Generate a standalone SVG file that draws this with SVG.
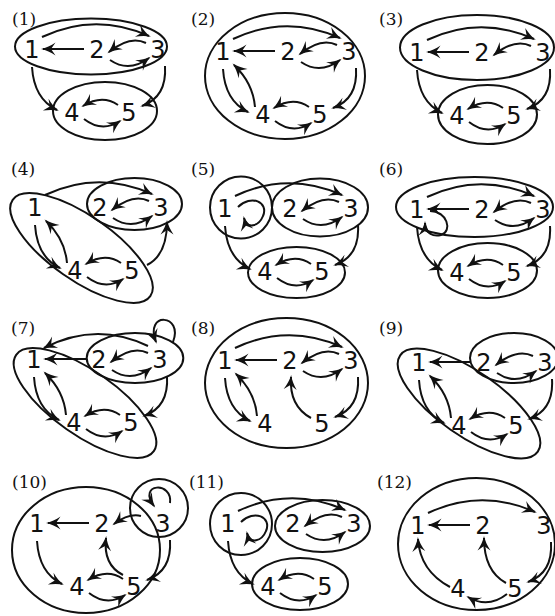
<svg xmlns="http://www.w3.org/2000/svg" width="555" height="616" viewBox="0 0 555 616">
<style>
.n{font-family:"DejaVu Sans",sans-serif;font-size:24px;text-anchor:middle;fill:#111}
.l{font-family:"DejaVu Serif",serif;font-size:17px;fill:#111}
ellipse,circle{fill:none;stroke:#111;stroke-width:2}
.c path{fill:none;stroke:#111;stroke-width:2;marker-end:url(#a)}
</style>
<defs>
<marker id="a" markerWidth="18" markerHeight="14" viewBox="-15 -7 18 14" refX="0" refY="0" orient="auto" markerUnits="userSpaceOnUse" overflow="visible">
<path d="M2,0 C-3,-1 -8,-3.5 -12.5,-6.5 L-8,0 L-12.5,6.5 C-8,3.5 -3,1 2,0 Z" fill="#111" stroke="none"/>
</marker>
<g id="N1"><text class="n" x="0" y="9">1</text></g>
<g id="N2"><text class="n" x="65" y="9">2</text></g>
<g id="N3"><text class="n" x="126" y="9">3</text></g>
<g id="N4"><text class="n" x="40" y="72">4</text></g>
<g id="N5"><text class="n" x="97" y="72">5</text></g>
</defs>

<g id="labels">
<text class="l" x="12" y="25">(1)</text>
<text class="l" x="191" y="25">(2)</text>
<text class="l" x="379" y="25">(3)</text>
<text class="l" x="11" y="175">(4)</text>
<text class="l" x="191" y="175">(5)</text>
<text class="l" x="379" y="175">(6)</text>
<text class="l" x="11" y="334">(7)</text>
<text class="l" x="191" y="334">(8)</text>
<text class="l" x="379" y="334">(9)</text>
<text class="l" x="12" y="488">(10)</text>
<text class="l" x="189" y="488">(11)</text>
<text class="l" x="377" y="488">(12)</text>
</g>

<!-- Panel 1 -->
<g id="panel1" transform="translate(32,49)">
<g id="p1-nodes"><use href="#N1"/><use href="#N2"/><use href="#N3"/><use href="#N4"/><use href="#N5"/></g>
<g id="p1-sets"><ellipse cx="59" cy="-2.5" rx="76" ry="28"/><ellipse cx="73" cy="62" rx="52" ry="29"/></g>
<g id="p1-edges" class="c">
<path d="M10,-12 Q63,-37 117,-13"/><path d="M52,0 L11,0"/><path d="M114,-6 Q98,-14 77,3"/><path d="M78,11 Q97,24 117,9"/>
<path d="M0,18 Q2,50 25,61"/><path d="M133,17 Q135,48 110,57"/><path d="M86,56 Q70,45 51,57"/><path d="M52,70 Q70,84 88,72"/>
</g>
</g>

<!-- Panel 2 -->
<g id="panel2" transform="translate(223,51)">
<g id="p2-nodes"><use href="#N1"/><use href="#N2"/><use href="#N3"/><use href="#N4"/><use href="#N5"/></g>
<g id="p2-sets"><ellipse cx="62" cy="25" rx="80" ry="63"/></g>
<g id="p2-edges" class="c">
<path d="M10,-12 Q63,-37 117,-13"/><path d="M52,0 L11,0"/><path d="M114,-6 Q98,-14 77,3"/><path d="M78,11 Q97,24 117,9"/>
<path d="M0,18 Q2,50 25,61"/><path d="M32,56 Q30,32 11,14"/><path d="M133,17 Q135,48 110,57"/><path d="M86,56 Q70,45 51,57"/><path d="M52,70 Q70,84 88,72"/>
</g>
</g>

<!-- Panel 3 -->
<g id="panel3" transform="translate(417,52)">
<g id="p3-nodes"><use href="#N1"/><use href="#N2"/><use href="#N3"/><use href="#N4"/><use href="#N5"/></g>
<g id="p3-sets"><ellipse cx="60" cy="-4.5" rx="77" ry="32.5"/><ellipse cx="70.5" cy="62.5" rx="49.5" ry="29.5"/></g>
<g id="p3-edges" class="c">
<path d="M10,-12 Q63,-37 117,-13"/><path d="M52,0 L11,0"/><path d="M114,-6 Q98,-14 77,3"/>
<path d="M0,18 Q2,50 25,61"/><path d="M133,17 Q135,48 110,57"/><path d="M86,56 Q70,45 51,57"/><path d="M52,70 Q70,84 88,72"/>
</g>
</g>

<!-- Panel 4 -->
<g id="panel4" transform="translate(35,207)">
<g id="p4-nodes"><use href="#N1"/><use href="#N2"/><use href="#N3"/><use href="#N4"/><use href="#N5"/></g>
<g id="p4-sets"><ellipse cx="99.5" cy="-3" rx="47.5" ry="26"/><ellipse transform="translate(46.5,41) rotate(35)" rx="84" ry="32"/></g>
<g id="p4-edges" class="c">
<path d="M10,-12 Q63,-37 117,-13"/><path d="M114,-6 Q98,-14 77,3"/><path d="M78,11 Q97,24 117,9"/>
<path d="M0,18 Q2,50 25,61"/><path d="M32,56 Q30,32 11,14"/><path d="M86,56 Q70,45 51,57"/><path d="M52,70 Q70,84 88,72"/>
<path d="M112,58 Q132,48 132,15"/>
</g>
</g>

<!-- Panel 5 -->
<g id="panel5" transform="translate(225,208)">
<g id="p5-nodes"><use href="#N1"/><use href="#N2"/><use href="#N3"/><use href="#N4"/><use href="#N5"/></g>
<g id="p5-sets"><circle cx="16" cy="-0.5" r="31"/><ellipse cx="95" cy="-0.5" rx="48" ry="29"/><ellipse cx="71.5" cy="64.5" rx="48.5" ry="25.5"/></g>
<g id="p5-edges" class="c">
<path d="M10,-12 Q63,-37 117,-13"/><path d="M114,-6 Q98,-14 77,3"/><path d="M78,11 Q97,24 117,9"/>
<path d="M0,18 Q2,50 25,61"/><path d="M133,17 Q135,48 110,57"/><path d="M86,56 Q70,45 51,57"/><path d="M52,70 Q70,84 88,72"/>
<path d="M13,-1 C26,-14 44,-6 38,8 C34,18 22,22 19,10"/>
</g>
</g>

<!-- Panel 6 -->
<g id="panel6" transform="translate(417,209)">
<g id="p6-nodes"><use href="#N1"/><use href="#N2"/><use href="#N3"/><use href="#N4"/><use href="#N5"/></g>
<g id="p6-sets"><ellipse cx="57.5" cy="-2" rx="78.5" ry="30"/><ellipse cx="70.5" cy="61.5" rx="49.5" ry="27.5"/></g>
<g id="p6-edges" class="c">
<path d="M10,-12 Q63,-37 117,-13"/><path d="M52,0 L11,0"/><path d="M114,-6 Q98,-14 77,3"/><path d="M78,11 Q97,24 117,9"/>
<path d="M0,18 Q2,50 25,61"/><path d="M133,17 Q135,48 110,57"/><path d="M86,56 Q70,45 51,57"/><path d="M52,70 Q70,84 88,72"/>
<path d="M13,2 C30,2 36,22 24,26 C16,28 8,24 8,14"/>
</g>
</g>

<!-- Panel 7 -->
<g id="panel7" transform="translate(34,359)">
<g id="p7-nodes"><use href="#N1"/><use href="#N2"/><use href="#N3"/><use href="#N4"/><use href="#N5"/></g>
<g id="p7-sets"><ellipse cx="101" cy="-1" rx="48.3" ry="25"/><ellipse transform="translate(51,44) rotate(35)" rx="84" ry="32"/></g>
<g id="p7-edges" class="c">
<path d="M114,-13 Q62,-38 10,-11"/><path d="M52,0 L11,0"/><path d="M114,-6 Q98,-14 77,3"/><path d="M78,11 Q97,24 117,9"/>
<path d="M0,18 Q2,50 25,61"/><path d="M32,56 Q30,32 11,14"/><path d="M133,17 Q135,48 110,57"/><path d="M86,56 Q70,45 51,57"/><path d="M52,70 Q70,84 88,72"/>
<path d="M139,-17 C150,-45 110,-48 122,-17"/>
</g>
</g>

<!-- Panel 8 -->
<g id="panel8" transform="translate(225,360)">
<g id="p8-nodes"><use href="#N1"/><use href="#N2"/><use href="#N3"/><use href="#N4"/><use href="#N5"/></g>
<g id="p8-sets"><ellipse cx="61.5" cy="23" rx="81.5" ry="65"/></g>
<g id="p8-edges" class="c">
<path d="M10,-12 Q63,-37 117,-13"/><path d="M52,0 L11,0"/><path d="M114,-6 Q98,-14 77,3"/><path d="M78,11 Q97,24 117,9"/>
<path d="M0,18 Q2,50 25,61"/><path d="M32,56 Q30,32 11,14"/><path d="M133,17 Q135,48 110,57"/><path d="M86,58 Q64,46 66,17"/>
</g>
</g>

<!-- Panel 9 -->
<g id="panel9" transform="translate(419,362)">
<g id="p9-nodes"><use href="#N1"/><use href="#N2"/><use href="#N3"/><use href="#N4"/><use href="#N5"/></g>
<g id="p9-sets"><ellipse cx="95" cy="-4" rx="44" ry="25"/><ellipse transform="translate(50,41.5) rotate(35)" rx="84" ry="32"/></g>
<g id="p9-edges" class="c">
<path d="M52,0 L11,0"/><path d="M114,-6 Q98,-14 77,3"/><path d="M78,11 Q97,24 117,9"/>
<path d="M0,18 Q2,50 25,61"/><path d="M32,56 Q30,32 11,14"/><path d="M133,17 Q135,48 110,57"/><path d="M86,56 Q70,45 51,57"/><path d="M52,70 Q70,84 88,72"/>
</g>
</g>

<!-- Panel 10 -->
<g id="panel10" transform="translate(37,523)">
<g id="p10-nodes"><use href="#N1"/><use href="#N2"/><use href="#N3"/><use href="#N4"/><use href="#N5"/></g>
<g id="p10-sets"><ellipse cx="49" cy="27" rx="74" ry="63"/><circle cx="122" cy="-15" r="29"/></g>
<g id="p10-edges" class="c">
<path d="M52,0 L11,0"/><path d="M104,-7 Q92,-10 77,1"/>
<path d="M0,18 Q2,50 25,61"/><path d="M133,17 Q135,48 110,57"/><path d="M86,56 Q70,45 51,57"/><path d="M52,70 Q70,84 88,72"/>
<path d="M86,52 Q66,42 69,15"/><path d="M133,-20 C136,-42 100,-40 117,-17"/>
</g>
</g>

<!-- Panel 11 -->
<g id="panel11" transform="translate(228,523)">
<g id="p11-nodes"><use href="#N1"/><use href="#N2"/><use href="#N3"/><use href="#N4"/><use href="#N5"/></g>
<g id="p11-sets"><circle cx="13" cy="1" r="31"/><ellipse cx="94.5" cy="3" rx="47.5" ry="26"/><ellipse cx="72" cy="61" rx="48" ry="26"/></g>
<g id="p11-edges" class="c">
<path d="M10,-12 Q63,-37 117,-13"/><path d="M114,-6 Q98,-14 77,3"/><path d="M78,11 Q97,24 117,9"/>
<path d="M0,18 Q2,50 25,61"/><path d="M86,56 Q70,45 51,57"/><path d="M52,70 Q70,84 88,72"/>
<path d="M13,-1 C26,-14 44,-6 38,8 C34,18 22,22 19,10"/>
</g>
</g>

<!-- Panel 12 -->
<g id="panel12" transform="translate(418,525)">
<g id="p12-nodes"><use href="#N1"/><use href="#N2"/><use href="#N3"/><use href="#N4"/><use href="#N5"/></g>
<g id="p12-sets"><ellipse cx="58.5" cy="19" rx="78.5" ry="66"/></g>
<g id="p12-edges" class="c">
<path d="M10,-12 Q63,-37 117,-13"/><path d="M52,0 L11,0"/><path d="M133,17 Q135,48 110,57"/>
<path d="M89,69 Q70,84 50,72"/><path d="M88,58 Q66,46 66,13"/><path d="M32,62 Q2,46 0,14"/>
</g>
</g>
</svg>
